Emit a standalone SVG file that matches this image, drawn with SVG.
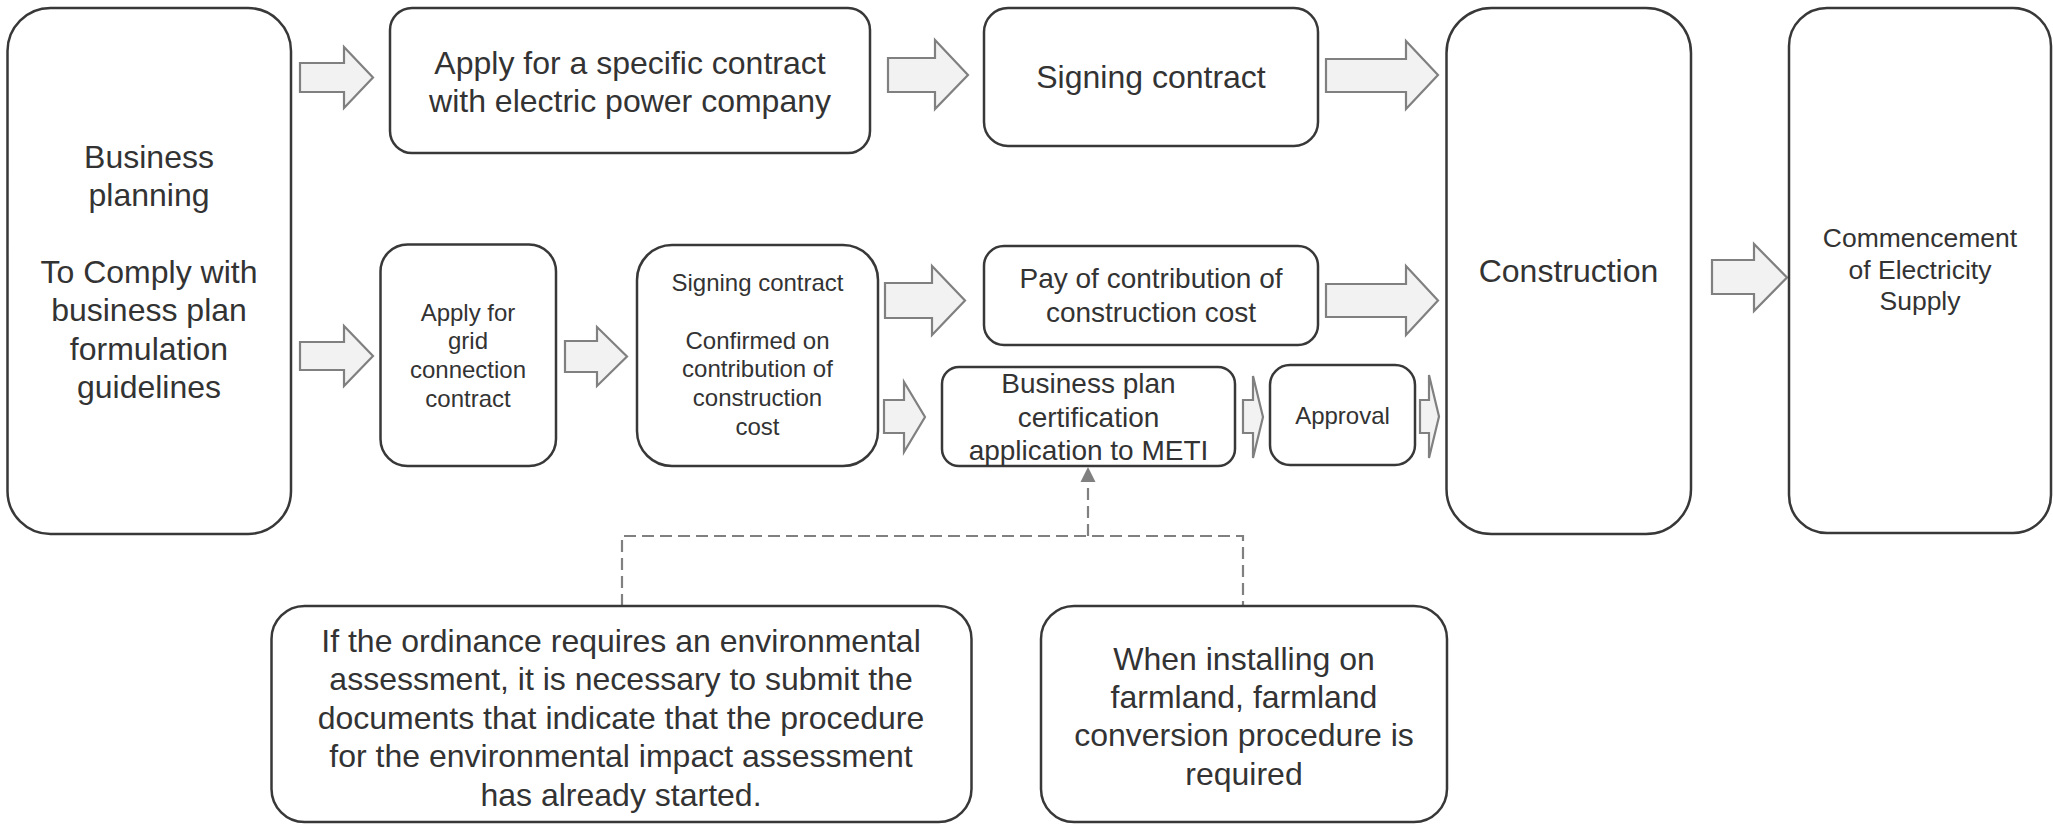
<svg xmlns="http://www.w3.org/2000/svg" width="2053" height="824" viewBox="0 0 2053 824">
<style>
.box{fill:#ffffff;stroke:#383838;stroke-width:2.5}
.t{font-family:"Liberation Sans",Arial,sans-serif;fill:#333333;text-anchor:middle}
.L{font-size:32px}
.M{font-size:28px}
.S{font-size:24px}
.C{font-size:26.5px}
.arr{fill:#f2f2f2;stroke:#808080;stroke-width:2.2;stroke-linejoin:miter}
.dash{fill:none;stroke:#808080;stroke-width:2.2;stroke-dasharray:12 6}
</style>
<rect width="2053" height="824" fill="#ffffff"/>
<g id="connectors">
<polygon class="arr" points="300,63 344,63 344,47 373,77.5 344,108 344,92 300,92"/>
<polygon class="arr" points="300,342 344,342 344,326 373,356 344,386 344,370 300,370"/>
<polygon class="arr" points="565,341 597,341 597,327 627,356.5 597,386 597,372 565,372"/>
<polygon class="arr" points="888,58 935,58 935,40 968,75 935,109 935,92 888,92"/>
<polygon class="arr" points="1326,59 1406,59 1406,41 1438,75 1406,109 1406,92 1326,92"/>
<polygon class="arr" points="885,283 932,283 932,266 965,300.5 932,335 932,318 885,318"/>
<polygon class="arr" points="1326,284 1406,284 1406,266 1438,300.5 1406,335 1406,317 1326,317"/>
<polygon class="arr" points="884,400 904,400 904,382 925,417 904,452 904,433 884,433"/>
<polygon class="arr" points="1243,400 1253,400 1253,376 1263,417 1253,458 1253,433 1243,433"/>
<polygon class="arr" points="1420,400 1429,400 1429,375 1439,416.5 1429,458 1429,433 1420,433"/>
<polygon class="arr" points="1712,260 1754,260 1754,244 1787,277.5 1754,311 1754,294 1712,294"/>
<path class="dash" d="M622,606 V536 H1243 V606"/>
<path class="dash" d="M1088,536 V482"/>
<polygon points="1088,467 1080.5,482 1095.5,482" fill="#808080"/>
</g>
<g id="business-planning">
<rect class="box" x="7.5" y="8" width="283.5" height="526" rx="43"/>
<text class="t L"><tspan x="149" y="167.5">Business</tspan><tspan x="149" y="206">planning</tspan><tspan x="149" y="283">To Comply with</tspan><tspan x="149" y="321">business plan</tspan><tspan x="149" y="359.5">formulation</tspan><tspan x="149" y="398">guidelines</tspan></text>
</g>
<g id="apply-specific">
<rect class="box" x="390" y="8" width="480" height="145" rx="22"/>
<text class="t L"><tspan x="630" y="74">Apply for a specific contract</tspan><tspan x="630" y="112">with electric power company</tspan></text>
</g>
<g id="signing-top">
<rect class="box" x="984" y="8" width="334" height="138" rx="24"/>
<text class="t L" x="1151" y="88">Signing contract</text>
</g>
<g id="grid">
<rect class="box" x="380.5" y="244.5" width="175.5" height="221.5" rx="27"/>
<text class="t S"><tspan x="468" y="320.5">Apply for</tspan><tspan x="468" y="349.3">grid</tspan><tspan x="468" y="378.1">connection</tspan><tspan x="468" y="406.9">contract</tspan></text>
</g>
<g id="signing-mid">
<rect class="box" x="637" y="245" width="241" height="221" rx="35"/>
<text class="t S"><tspan x="757.5" y="291">Signing contract</tspan><tspan x="757.5" y="348.6">Confirmed on</tspan><tspan x="757.5" y="377.4">contribution of</tspan><tspan x="757.5" y="406.2">construction</tspan><tspan x="757.5" y="435">cost</tspan></text>
</g>
<g id="pay">
<rect class="box" x="984" y="246" width="334" height="99" rx="20"/>
<text class="t M"><tspan x="1151" y="288">Pay of contribution of</tspan><tspan x="1151" y="321.5">construction cost</tspan></text>
</g>
<g id="meti">
<rect class="box" x="942" y="367" width="293" height="99" rx="17"/>
<text class="t M"><tspan x="1088.5" y="393">Business plan</tspan><tspan x="1088.5" y="426.6">certification</tspan><tspan x="1088.5" y="460.2">application to METI</tspan></text>
</g>
<g id="approval">
<rect class="box" x="1270" y="365" width="145" height="100" rx="20"/>
<text class="t S" x="1342.5" y="424">Approval</text>
</g>
<g id="construction">
<rect class="box" x="1446.5" y="8" width="244.5" height="526" rx="45"/>
<text class="t L" x="1568.5" y="282">Construction</text>
</g>
<g id="commencement">
<rect class="box" x="1789" y="8" width="262" height="525" rx="38"/>
<text class="t C"><tspan x="1920" y="247">Commencement</tspan><tspan x="1920" y="278.5">of Electricity</tspan><tspan x="1920" y="310">Supply</tspan></text>
</g>
<g id="environmental">
<rect class="box" x="271.5" y="606" width="700" height="216" rx="33"/>
<text class="t L"><tspan x="621" y="652">If the ordinance requires an environmental</tspan><tspan x="621" y="690.4">assessment, it is necessary to submit the</tspan><tspan x="621" y="728.8">documents that indicate that the procedure</tspan><tspan x="621" y="767.2">for the environmental impact assessment</tspan><tspan x="621" y="805.6">has already started.</tspan></text>
</g>
<g id="farmland">
<rect class="box" x="1041" y="606" width="406" height="216" rx="33"/>
<text class="t L"><tspan x="1244" y="669.5">When installing on</tspan><tspan x="1244" y="707.9">farmland, farmland</tspan><tspan x="1244" y="746.3">conversion procedure is</tspan><tspan x="1244" y="784.7">required</tspan></text>
</g>
</svg>
